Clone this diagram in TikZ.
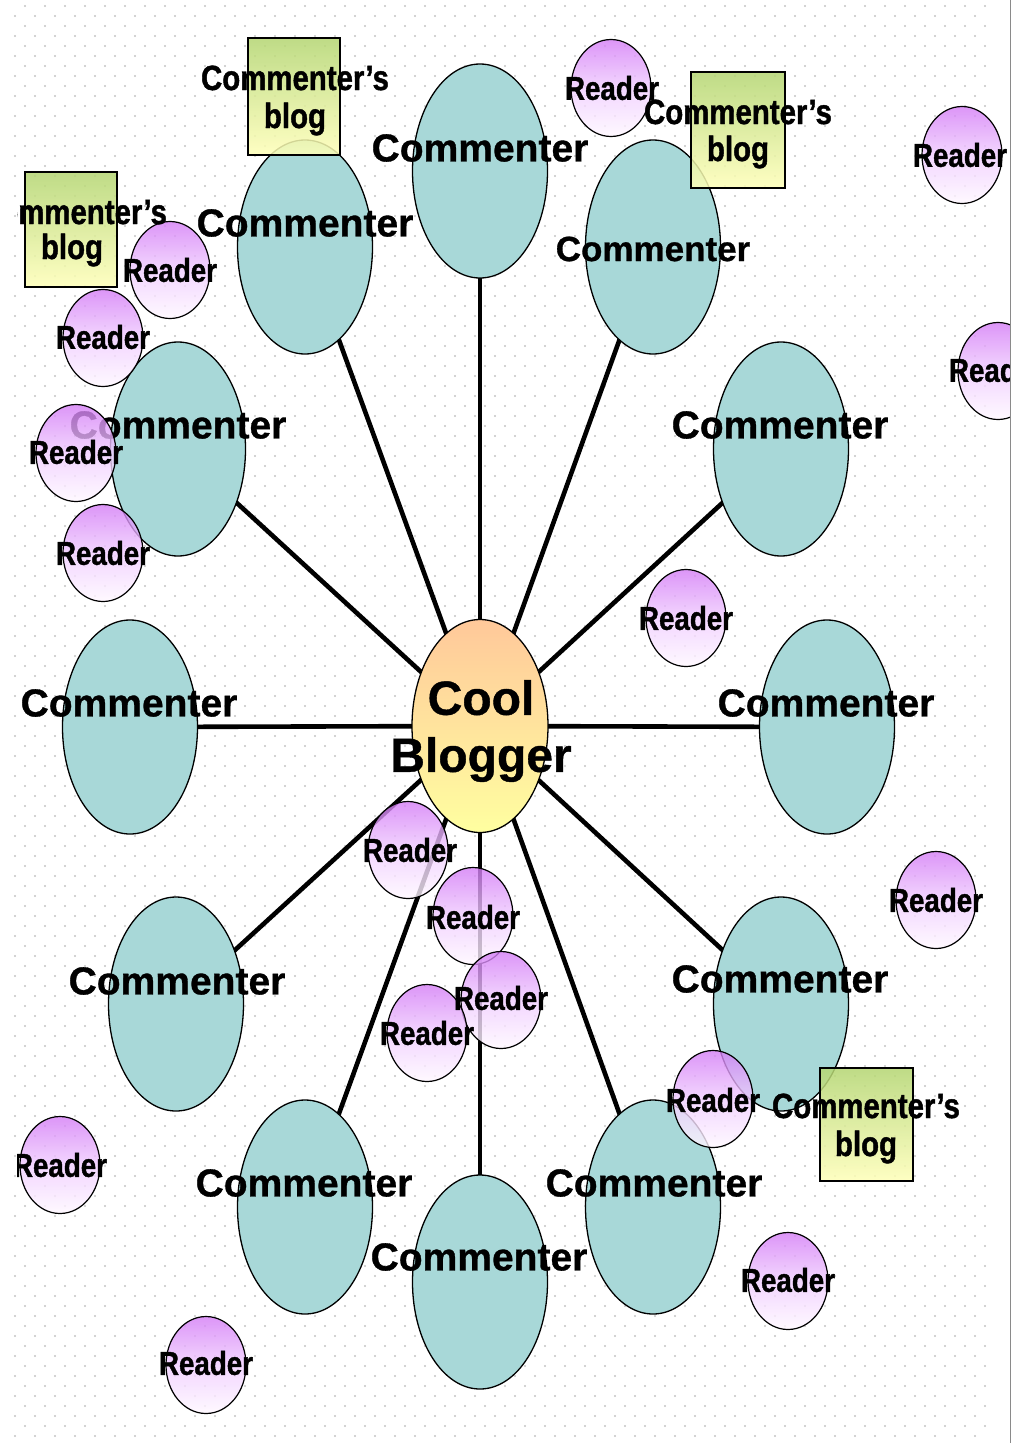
\documentclass[tikz,border=0pt]{standalone}
\usepackage{fontspec}
\setmainfont{Liberation Sans}
\newfontfamily\condfont[FakeStretch=0.84, FakeBold=1.2]{Liberation Sans}
\newfontfamily\heavyfont[FakeBold=0.8]{Liberation Sans}
\usetikzlibrary{shapes.geometric,backgrounds}
\definecolor{commfill}{HTML}{A8D8D8}
\definecolor{readtop}{HTML}{D47CF6}
\definecolor{readmid}{HTML}{F0CCFF}
\definecolor{readbot}{HTML}{FFF8FF}
\definecolor{blogtop}{HTML}{FFC89A}
\definecolor{blogbot}{HTML}{FFFFA0}
\definecolor{boxtop}{HTML}{B4D672}
\definecolor{boxbot}{HTML}{FFFFB8}
\definecolor{dotgray}{HTML}{C4C4C4}
\definecolor{edgegray}{HTML}{8A8A8A}
\begin{document}
\begin{tikzpicture}[x=1pt,y=-1pt,
  comm/.style={ellipse, draw=black, line width=1.3pt, fill=commfill,
    minimum width=135pt, minimum height=214pt, inner sep=0pt},
  commlabel/.style={font=\heavyfont\bfseries\fontsize{39}{40}\selectfont, inner sep=0pt},
  blogger/.style={ellipse, draw=black, line width=1.3pt, top color=blogtop,
    bottom color=blogbot, minimum width=136pt, minimum height=213pt, inner sep=0pt},
  bloggerlabel/.style={font=\heavyfont\bfseries\fontsize{48}{57}\selectfont, align=center, inner sep=0pt},
  reader/.style={ellipse, draw=black, line width=1.2pt, top color=readtop,
    bottom color=readbot, middle color=readmid, fill opacity=0.8, draw opacity=1,
    minimum width=80pt, minimum height=97pt, inner sep=0pt},
  readlabel/.style={inner sep=0pt, font=\condfont\bfseries\fontsize{33}{34}\selectfont},
  blogbox/.style={rectangle, draw=black, line width=1.2pt, top color=boxtop,
    bottom color=boxbot, fill opacity=0.85, draw opacity=1, inner sep=0pt},
  boxlabel/.style={anchor=base, inner sep=0pt,
    font=\condfont\bfseries\fontsize{35}{36}\selectfont},
  spoke/.style={line width=4.6pt, black}
]
\useasboundingbox (0,0) rectangle (1012,1443);
\begin{scope}[on background layer]
\fill[white] (0,0) rectangle (1012,1443);
\foreach \j in {0,...,71} {
  \fill[dotgray] \foreach \i in {1,...,49} { (\i*20+5, \j*20+6) circle (1.1pt) };
  \fill[dotgray] \foreach \i in {1,...,49} { (\i*20-5, \j*20+16) circle (1.1pt) };
}
\end{scope}
\begin{scope}
\clip (17,0) rectangle (1010,1443);
% commenters
\node[comm] (c1) at (480,171) {};
\node[comm] (c2) at (305,247) {};
\node[comm] (c3) at (653,247) {};
\node[comm] (c4) at (178,449) {};
\node[comm] (c5) at (781,449) {};
\node[comm] (c6) at (130,727) {};
\node[comm] (c7) at (827,727) {};
\node[comm] (c8) at (176,1004) {};
\node[comm] (c9) at (781,1004) {};
\node[comm] (c10) at (305,1207) {};
\node[comm] (c11) at (653,1207) {};
\node[comm] (c12) at (480,1282) {};
\node[commlabel] (l1) at (480,148) {Commenter};
\node[commlabel] (l2) at (305,223) {Commenter};
\node[commlabel, font=\heavyfont\bfseries\fontsize{35}{36}\selectfont] (l3) at (653,249) {Commenter};
\node[commlabel] (l4) at (178,425) {Commenter};
\node[commlabel] (l5) at (780,425) {Commenter};
\node[commlabel] (l6) at (129,703) {Commenter};
\node[commlabel] (l7) at (826,703) {Commenter};
\node[commlabel] (l8) at (177,981) {Commenter};
\node[commlabel] (l9) at (780,979) {Commenter};
\node[commlabel] (l10) at (304,1183) {Commenter};
\node[commlabel] (l11) at (654,1183) {Commenter};
\node[commlabel] (l12) at (479,1257) {Commenter};
% central blogger
\node[blogger] (cb) at (480,726) {};
\node[bloggerlabel] (cbl) at (481,731) {Cool\\Blogger};
% commenter's blog boxes
\node[blogbox, minimum width=92pt, minimum height=117pt] (b1) at (294,96.5) {};
\node[blogbox, minimum width=94pt, minimum height=116pt] (b2) at (738,130) {};
\node[blogbox, minimum width=92pt, minimum height=115pt] (b3) at (71,229.5) {};
\node[blogbox, minimum width=93pt, minimum height=113pt] (b4) at (866.5,1124.5) {};
% readers
\node[reader] (r1) at (611,88) {};
\node[reader] (r2) at (962,155) {};
\node[reader] (r3) at (170,270) {};
\node[reader] (r4) at (103,338) {};
\node[reader] (r5) at (998,371) {};
\node[reader] (r6) at (76,453) {};
\node[reader] (r7) at (103,553) {};
\node[reader] (r8) at (686,618) {};
\node[reader] (r9) at (408,850) {};
\node[reader] (r10) at (936,900) {};
\node[reader] (r11) at (473,916) {};
\node[reader] (r12) at (501,1000) {};
\node[reader] (r13) at (427,1033) {};
\node[reader] (r14) at (713,1099) {};
\node[reader] (r15) at (60,1165) {};
\node[reader] (r16) at (788,1281) {};
\node[reader] (r17) at (206,1365) {};
\node[readlabel] (t1) at (612,88) {Reader};
\node[readlabel] (t2) at (960,155) {Reader};
\node[readlabel] (t3) at (170,270) {Reader};
\node[readlabel] (t4) at (103,337) {Reader};
\node[readlabel] (t5) at (996,370) {Reader};
\node[readlabel] (t6) at (76,452) {Reader};
\node[readlabel] (t7) at (103,553) {Reader};
\node[readlabel] (t8) at (686,618) {Reader};
\node[readlabel] (t9) at (410,850) {Reader};
\node[readlabel] (t10) at (936,900) {Reader};
\node[readlabel] (t11) at (473,917) {Reader};
\node[readlabel] (t12) at (501,998) {Reader};
\node[readlabel] (t13) at (427,1033) {Reader};
\node[readlabel] (t14) at (713,1100) {Reader};
\node[readlabel] (t15) at (60,1165) {Reader};
\node[readlabel] (t16) at (788,1280) {Reader};
\node[readlabel] (t17) at (206,1363) {Reader};
% box labels
\node[boxlabel] (b1t) at (295,90) {Commenter’s};
\node[boxlabel] (b1b) at (295,128) {blog};
\node[boxlabel] (b2t) at (738,124) {Commenter’s};
\node[boxlabel] (b2b) at (738,161) {blog};
\node[boxlabel] (b3t) at (73,224) {Commenter’s};
\node[boxlabel] (b3b) at (72,259) {blog};
\node[boxlabel] (b4t) at (866,1118) {Commenter’s};
\node[boxlabel] (b4b) at (866,1156) {blog};
\end{scope}
% spokes behind the shapes
\begin{scope}[on background layer]
\foreach \c in {c1,c2,c3,c4,c5,c6,c7,c8,c9,c10,c11,c12}
  \draw[spoke] (cb.center) -- (\c.center);
\end{scope}
% right edge
\draw[edgegray, line width=1.5pt] (1010.5,0) -- (1010.5,1443);
\end{tikzpicture}
\end{document}
